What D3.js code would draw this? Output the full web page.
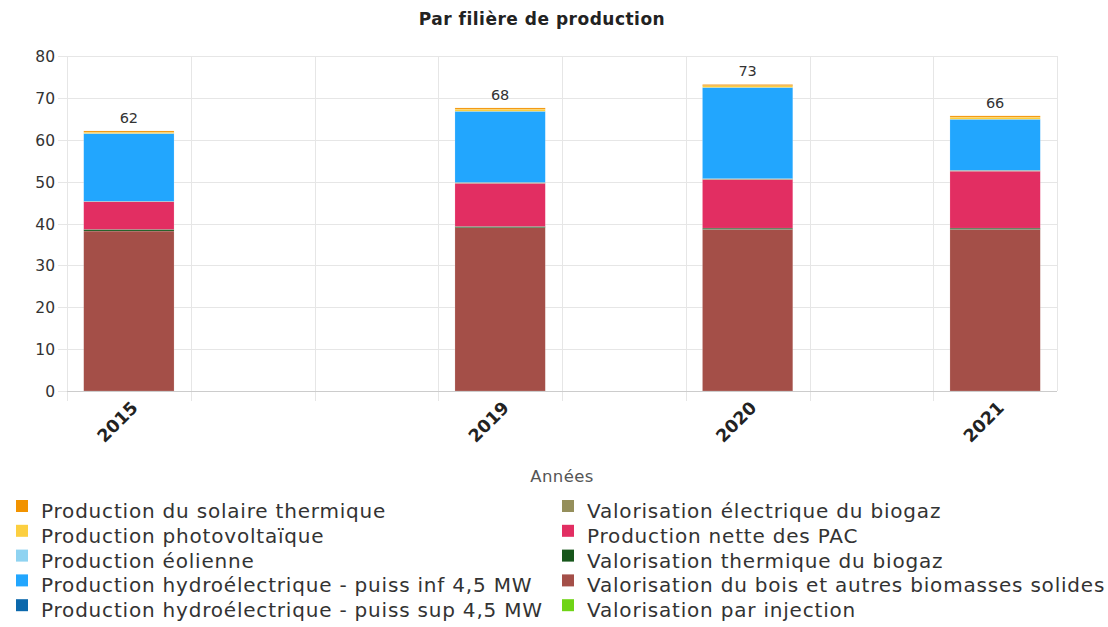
<!DOCTYPE html>
<html>
<head>
<meta charset="utf-8">
<script src="https://cdn.jsdelivr.net/npm/d3@7"></script>
<style>
  body { margin: 0; background: #fff; }
  svg { font-family: "DejaVu Sans", sans-serif; }
</style>
</head>
<body>
<div id="content"></div>
<script>
// years shown, and where they sit on the axis (8 slots, some empty)
var years = ["2015", "2019", "2020", "2021"];
var slots = ["2015", "_1", "_2", "2019", "_4", "2020", "_6", "2021"];

// series, from the bottom of the stack up
var seriesNames = [
  "Valorisation par injection",
  "Valorisation du bois et autres biomasses solides",
  "Valorisation thermique du biogaz",
  "Production nette des PAC",
  "Valorisation électrique du biogaz",
  "Production hydroélectrique - puiss sup 4,5 MW",
  "Production hydroélectrique - puiss inf 4,5 MW",
  "Production éolienne",
  "Production photovoltaïque",
  "Production du solaire thermique"
];
var seriesColors = [
  "#6fd416", "#a44f48", "#17561b", "#e22e62", "#958f5b",
  "#0b68ac", "#22a6fe", "#8fd3f1", "#fccf40", "#f29300"
];
// values per year, same order as years
var injection   = [0, 0, 0, 0];
var bois        = [38.2, 39.0, 38.6, 38.6];
var thermBiogaz = [0.4, 0.3, 0.3, 0.3];
var pac         = [6.6, 10.3, 11.6, 13.6];
var elecBiogaz  = [0.1, 0.2, 0.2, 0.2];
var hydroSup    = [0, 0, 0, 0];
var hydroInf    = [16.2, 17.0, 21.8, 12.2];
var eolien      = [0, 0, 0, 0];
var pv          = [0.3, 0.5, 0.4, 0.5];
var solaireTh   = [0.3, 0.3, 0.3, 0.3];
var seriesValues = [injection, bois, thermBiogaz, pac, elecBiogaz, hydroSup, hydroInf, eolien, pv, solaireTh];

var yTicks = [0, 10, 20, 30, 40, 50, 60, 70, 80];

function draw(){
  var W = 1108, H = 627;
  var mLeft = 67, mRight = 1057, mTop = 56, mBottom = 391;

  var svg = d3.select('#content').append('svg')
    .attr('width', W).attr('height', H);

  var rows = years.map(function(yr, i){
    var r = {year: yr};
    seriesNames.forEach(function(n, k){ r[n] = seriesValues[k][i]; });
    return r;
  });
  var stacked = d3.stack().keys(seriesNames)(rows);

  var x = d3.scaleBand().domain(slots).range([mLeft, mRight]).paddingInner(0).paddingOuter(0);
  var y = d3.scaleLinear().domain([0, 80]).range([mBottom, mTop]);
  var barW = x.bandwidth() * 0.73;

  // title
  svg.append('text')
    .attr('x', 542).attr('y', 25)
    .attr('text-anchor', 'middle')
    .attr('font-size', 17).attr('font-weight', 'bold').attr('fill', '#222')
    .attr('letter-spacing', 0.5)
    .text('Par filière de production');

  // horizontal grid + y labels
  var gy = svg.append('g');
  gy.selectAll('line').data(yTicks).enter().append('line')
    .attr('x1', mLeft - 9).attr('x2', mRight)
    .attr('y1', function(d){ return Math.round(y(d)) + 0.5; })
    .attr('y2', function(d){ return Math.round(y(d)) + 0.5; })
    .attr('stroke', '#e6e6e6').attr('stroke-width', 1);
  gy.selectAll('text').data(yTicks).enter().append('text')
    .attr('x', mLeft - 12).attr('y', function(d){ return y(d) + 6; })
    .attr('text-anchor', 'end')
    .attr('font-size', 15.5).attr('fill', '#333')
    .text(function(d){ return d; });

  // vertical grid at slot boundaries
  var xLines = slots.map(function(s){ return x(s); }).concat([mRight]);
  svg.append('g').selectAll('line').data(xLines).enter().append('line')
    .attr('x1', function(d){ return Math.round(d) + 0.5; })
    .attr('x2', function(d){ return Math.round(d) + 0.5; })
    .attr('y1', mTop).attr('y2', function(d, i){ return i == xLines.length - 1 ? mBottom : mBottom + 10; })
    .attr('stroke', '#e6e6e6').attr('stroke-width', 1);

  // bars
  svg.append('g').selectAll('g')
    .data(stacked).enter().append('g')
    .attr('fill', function(d, i){ return seriesColors[i]; })
    .selectAll('rect')
    .data(function(d){ return d; })
    .enter().append('rect')
    .attr('x', function(d){ return x(d.data.year) + (x.bandwidth() - barW) / 2; })
    .attr('width', barW)
    .attr('y', function(d){ return y(d[1]); })
    .attr('height', function(d){ return Math.max(0, y(d[0]) - y(d[1])); })
    .attr('stroke', 'rgba(255,255,255,0.35)').attr('stroke-width', 0.5);

  // x axis line
  svg.append('line')
    .attr('x1', mLeft).attr('x2', mRight)
    .attr('y1', mBottom + 0.5).attr('y2', mBottom + 0.5)
    .attr('stroke', '#ccc');

  // totals
  svg.append('g').selectAll('text').data(rows).enter().append('text')
    .attr('x', function(d){ return x(d.year) + x.bandwidth() / 2; })
    .attr('y', function(d){ return y(d3.sum(seriesNames, function(n){ return d[n]; })) - 8; })
    .attr('text-anchor', 'middle')
    .attr('font-size', 14.5).attr('fill', '#333')
    .text(function(d){ return Math.round(d3.sum(seriesNames, function(n){ return d[n]; })); });

  // x labels
  svg.append('g').selectAll('text').data(years).enter().append('text')
    .attr('transform', function(d){
      return 'translate(' + (x(d) + x.bandwidth() / 2 + 10) + ',' + (mBottom + 18) + ') rotate(-45)';
    })
    .attr('text-anchor', 'end')
    .attr('font-size', 17.5).attr('font-weight', 'bold').attr('fill', '#222')
    .text(function(d){ return d; });

  svg.append('text')
    .attr('x', 562).attr('y', 482)
    .attr('text-anchor', 'middle')
    .attr('font-size', 16.5).attr('fill', '#555')
    .attr('letter-spacing', 0.4)
    .text('Années');

  // legend, top of stack first, two columns
  var legendItems = seriesNames.map(function(n, i){ return {name: n, color: seriesColors[i]}; }).reverse();
  var lg = svg.append('g').selectAll('g').data(legendItems).enter().append('g')
    .attr('transform', function(d, i){
      var col = Math.floor(i / 5), row = i % 5;
      return 'translate(' + (col ? 562 : 16) + ',' + (500 + row * 24.8) + ')';
    });
  lg.append('rect').attr('width', 12).attr('height', 12)
    .attr('fill', function(d){ return d.color; });
  lg.append('text').attr('x', 25).attr('y', 18)
    .attr('font-size', 20).attr('fill', '#333')
    .attr('letter-spacing', 0.8)
    .text(function(d){ return d.name; });
}
draw();
</script>
</body>
</html>
